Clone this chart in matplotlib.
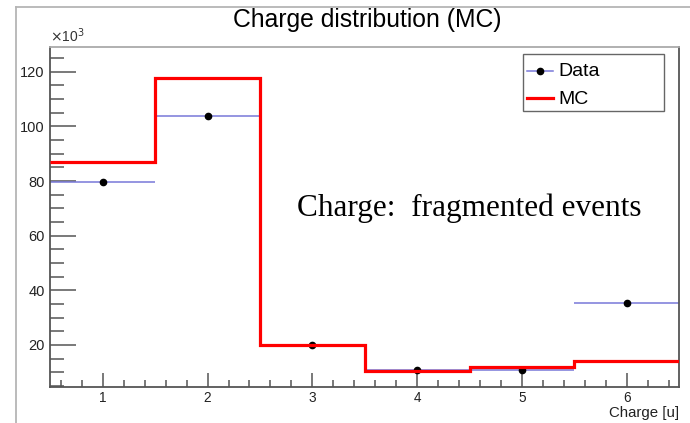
import numpy as np
import matplotlib.pyplot as plt
from matplotlib.ticker import MultipleLocator
from matplotlib.lines import Line2D
from matplotlib.patches import Rectangle

# charge bins (u) and counts in thousands
charge = [1, 2, 3, 4, 5, 6]
edges = [0.5, 1.5, 2.5, 3.5, 4.5, 5.5, 6.5]
data_counts = [79.8, 104.0, 20.0, 10.8, 10.9, 35.4]
mc_counts = [87.0, 117.6, 20.0, 10.4, 11.8, 14.1]

plt.rcParams['font.family'] = ['Liberation Sans', 'DejaVu Sans']

fig = plt.figure(figsize=(6.9, 4.23), dpi=100)
W, H = 690, 423
ax = fig.add_axes([50.3 / W, (H - 387.3) / H, 629 / W, 340.6 / H])

blue = '#7878d8'
red = '#ff0000'
ax.errorbar(charge, data_counts, xerr=0.5, fmt='o', color='black', ms=4.5,
            ecolor=blue, elinewidth=1.1, capsize=0, zorder=2)
ax.stairs(mc_counts, edges, baseline=None, color=red, lw=2.3, zorder=3)

ax.set_xlim(0.5, 6.5)
ax.set_ylim(4.5, 129.2)
ax.xaxis.set_major_locator(MultipleLocator(1))
ax.xaxis.set_minor_locator(MultipleLocator(0.2))
ax.yaxis.set_major_locator(MultipleLocator(20))
ax.yaxis.set_minor_locator(MultipleLocator(5))
ax.tick_params(axis='both', which='both', direction='in', colors='#555555',
               labelcolor='#222222')
ax.tick_params(axis='y', which='major', length=19, width=1.1, pad=4, labelsize=10.5)
ax.tick_params(axis='y', which='minor', length=10, width=1.1)
ax.tick_params(axis='x', which='major', length=10, width=1.1, pad=2.5, labelsize=9.8)
ax.tick_params(axis='x', which='minor', length=5, width=1.1)
ax.set_yticks([20, 40, 60, 80, 100, 120])
for s in ['left', 'bottom', 'right']:
    ax.spines[s].set_color('#555555')
    ax.spines[s].set_linewidth(1.3)
ax.spines['top'].set_color('#aaaaaa')
ax.spines['top'].set_linewidth(1.3)

ax.text(0.0, 1.005, r'$\times$10$^3$', transform=ax.transAxes, fontsize=10,
        color='#333333', va='bottom', ha='left')
ax.text(1.0, -0.055, 'Charge [u]', transform=ax.transAxes, fontsize=10.8,
        color='#222222', va='top', ha='right')
ax.text(4.5, 70.2, 'Charge:  fragmented events', fontsize=22.5,
        family='Liberation Serif', ha='center', va='center')

# ROOT-style legend box
def fx(px):
    return px / W


def fy(py):
    return 1 - py / H


fig.add_artist(Rectangle((fx(523), fy(111)), fx(664) - fx(523), fy(54) - fy(111),
                         transform=fig.transFigure, fill=True, fc='white',
                         ec='#666666', lw=1.0, zorder=5))
fig.add_artist(Line2D([fx(527), fx(553)], [fy(70.7)] * 2, color=blue, lw=1.1,
                      transform=fig.transFigure, zorder=6))
fig.add_artist(Line2D([fx(540)], [fy(70.7)], marker='o', ms=4.5, color='black',
                      lw=0, transform=fig.transFigure, zorder=7))
fig.add_artist(Line2D([fx(527), fx(553)], [fy(98.3)] * 2, color=red, lw=2.3,
                      transform=fig.transFigure, zorder=6))
fig.text(fx(558), fy(71.7), 'Data', fontsize=14, va='center', ha='left', zorder=7)
fig.text(fx(558), fy(99.3), 'MC', fontsize=14, va='center', ha='left', zorder=7)

fig.text(367 / W, 1 - 20.5 / H, 'Charge distribution (MC)', fontsize=17.8,
         ha='center', va='center')

# canvas frame lines
fig.add_artist(Line2D([16 / W, 1], [1 - 7 / H, 1 - 7 / H], color='#b5b5b5', lw=1.3,
                      transform=fig.transFigure))
fig.add_artist(Line2D([16 / W, 16 / W], [0, 1 - 7 / H], color='#b5b5b5', lw=1.3,
                      transform=fig.transFigure))

fig.savefig('out.png', dpi=100)
